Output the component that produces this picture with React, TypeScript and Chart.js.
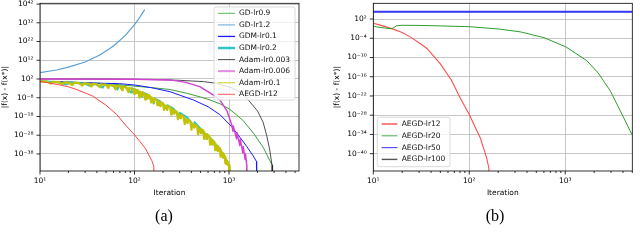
import React, { useEffect, useRef } from "react";
import { Chart, registerables } from "chart.js";
Chart.register(...registerables);

// ---------------- Panel (a) data ----------------
const gd09Iter = [10, 20, 30, 50, 70, 100, 150, 238, 355, 500, 630, 800, 1020, 1400, 1820, 2300, 2700, 2880, 2890];
const gd09Val = [6.3, 2.5, 1.26, 0.32, 0.08, 0.016, 2.5e-3, 2.5e-4, 2.5e-6, 2.5e-8, 6.3e-10, 6.3e-12, 6.3e-15, 1e-20, 1e-27, 3.2e-35, 3.2e-42, 1e-44, 1e-60];

const gd12Iter = [10, 15, 20, 30, 43, 60, 80, 100, 115, 128];
const gd12Val = [2.5e5, 6.3e6, 2e8, 1.26e11, 6.3e14, 4e19, 2e25, 1e31, 2e35, 1e39];

const gdm01Iter = [10, 20, 40, 70, 100, 150, 238, 420, 600, 800, 1070, 1300, 1540, 1800, 1950, 1960];
const gdm01Val = [6.3, 2, 0.63, 0.32, 0.063, 2.5e-3, 1.6e-5, 6.3e-10, 1.6e-13, 1e-17, 3.2e-24, 1e-29, 1e-34, 1e-39, 1e-42, 1e-60];

const gdm02Iter = [10, 15, 19, 21, 25, 30, 34, 38, 46, 48, 58, 66, 68, 80, 92, 94, 105, 120, 122, 140, 160, 162, 185, 220, 222, 260, 300, 302, 360, 430, 432, 500, 580, 582, 660, 750, 752, 850, 950, 952, 1005, 1012];
const gdm02Val = [6.3, 2.5, 0.13, 1.3, 0.79, 0.4, 0.016, 0.25, 2.5e-3, 0.1, 0.05, 2.5e-4, 0.02, 5e-3, 6.3e-6, 1e-3, 1.6e-4, 3.2e-8, 6.3e-6, 3.2e-7, 1e-11, 5e-9, 1.6e-10, 1e-14, 1e-12, 1e-14, 3.2e-19, 1e-16, 3.2e-19, 3.2e-24, 1e-21, 3.2e-25, 1e-30, 3.2e-28, 3.2e-31, 1e-36, 3.2e-34, 3.2e-38, 1e-43, 3.2e-42, 1e-45, 1e-60];

const adam003Iter = [10, 50, 100, 200, 300, 535, 740, 1100, 1400, 1600, 2000, 2290, 2500, 2700, 2850, 2870];
const adam003Val = [100, 89, 63, 40, 20, 4, 0.5, 1e-3, 1e-6, 6.3e-10, 1e-15, 1e-21, 1e-28, 1e-36, 1e-44, 1e-60];

const adam006Iter = [10, 100, 238, 350, 490, 680, 800, 950, 1070, 1100, 1110, 1200, 1215, 1300, 1315, 1400, 1415, 1480, 1495, 1540, 1545];
const adam006Val = [100, 79, 32, 1.6, 7.9e-3, 3.2e-7, 6.3e-10, 1e-15, 3.2e-23, 1e-26, 1e-23, 1e-30, 3.2e-27, 3.2e-34, 1e-30, 3.2e-38, 1e-34, 1e-41, 1e-38, 1e-44, 1e-60];

const adam01Iter = [
  10, 12, 13, 14, 16, 17, 18, 20, 22, 23, 26, 28, 29, 33, 35, 36, 40, 43, 44, 50, 53, 54, 60, 63, 64, 70, 74, 75, 82, 86, 87, 95,
  100, 101, 106, 107, 110, 113, 115, 119, 120, 125, 130, 132, 138, 139, 145, 150, 152, 160, 161, 170, 175, 177, 188, 189, 200, 205, 207, 222, 223, 238,
  245, 248, 263, 264, 280, 288, 290, 310, 311, 330, 340, 342, 365, 366, 390, 400, 402, 430, 431, 460, 470, 472, 505, 506, 535, 545, 548, 585, 586, 620,
  630, 633, 665, 666, 700, 715, 718, 760, 761, 800, 815, 818, 860, 861, 900, 915, 918, 950, 951, 980, 1000, 1010, 1015,
];
const adam01Val = [
  6.3, 4, 0.32, 3.2, 2, 0.16, 1.6, 1.3, 0.063, 1, 0.63, 0.032, 0.5, 0.32, 0.01, 0.25, 0.16, 4e-3, 0.13, 0.079, 1.6e-3, 0.063, 0.032, 3.2e-4, 0.025, 0.016, 1e-4, 7.9e-3, 3.2e-3, 1e-5, 1.6e-3, 5e-4,
  1e-6, 2.5e-4, 3.2e-6, 1.3e-4, 6.3e-5, 1e-8, 1.6e-5, 1e-7, 7.9e-6, 3.2e-6, 1e-9, 6.3e-7, 3.2e-9, 2.5e-7, 1e-7, 3.2e-11, 1.6e-8, 3.2e-11, 4e-9, 1e-9, 1e-12, 1.6e-10, 3.2e-13, 4e-11, 1e-11, 3.2e-15, 1.6e-12, 3.2e-15, 4e-13, 1e-13,
  1e-17, 1e-14, 3.2e-17, 1.6e-15, 3.2e-16, 3.2e-20, 3.2e-17, 1e-19, 6.3e-18, 1e-18, 1e-22, 1e-19, 3.2e-22, 1.6e-20, 3.2e-21, 1e-25, 3.2e-22, 1e-24, 6.3e-23, 1e-23, 3.2e-28, 1e-24, 1e-27, 1.6e-25, 3.2e-26, 1e-30, 3.2e-27, 1e-30, 2.5e-28, 3.2e-29,
  1e-33, 3.2e-30, 1e-33, 2.5e-31, 3.2e-32, 1e-36, 3.2e-33, 3.2e-37, 1e-34, 1e-35, 3.2e-40, 1e-36, 1e-40, 2.5e-38, 1e-39, 1e-43, 1e-40, 3.2e-44, 2.5e-42, 1e-43, 1e-45, 1e-44, 1e-60,
];

// AEGD-lr12 appears in both panels
const aegd12Iter = [10, 11.8, 15.6, 20, 24, 31, 36, 50, 65, 80, 100, 130, 152, 160, 161];
const aegd12Val = [5, 1.26, 0.1, 6.3e-3, 3.2e-4, 2e-6, 7.9e-8, 1e-12, 1e-17, 3.2e-23, 1.6e-28, 1e-35, 4e-42, 3.2e-45, 1e-60];

// ---------------- Panel (b) data ----------------
const aegd20Iter = [10, 11, 13, 15.6, 16.5, 17.5, 20, 30, 50, 100, 200, 340, 600, 1015, 1680, 2200, 2950, 3800, 4950];
const aegd20Val = [0.63, 0.32, 0.16, 0.089, 0.25, 0.79, 1.1, 1, 0.71, 0.4, 0.079, 0.01, 1.6e-4, 2e-7, 1e-11, 1.6e-15, 4e-21, 1e-27, 1e-34];

const aegd50Iter = [10, 5000];
const aegd50Val = [1.9e4, 1.9e4];

const aegd100Iter = [10, 5000];
const aegd100Val = [1.9e4, 1.9e4];

// ---------------- ticks ----------------
const xMajorTicks = [10, 100, 1000];
const xMinorTicks = [20, 30, 40, 50, 60, 70, 80, 90, 200, 300, 400, 500, 600, 700, 800, 900, 2000, 3000, 4000, 5000];
const yTickExpA = [-38, -28, -18, -8, 2, 12, 22, 32, 42];
const yTickExpB = [-40, -34, -28, -22, -16, -10, -4, 2];

const SUP: Record<string, string> = { "0": "⁰", "1": "¹", "2": "²", "3": "³", "4": "⁴", "5": "⁵", "6": "⁶", "7": "⁷", "8": "⁸", "9": "⁹", "-": "⁻" };
const pow10Label = (v: number) => {
  const e = Math.round(Math.log10(v));
  return "10" + String(e).split("").map((c) => SUP[c]).join("");
};

const FONT = '"DejaVu Sans", sans-serif';
const tickFont = { family: FONT, size: 7.5 };

const pts = (xs: number[], ys: number[]) => xs.map((x, i) => ({ x, y: ys[i] }));

type DS = { label: string; xs: number[]; ys: number[]; color: string; width: number; legendColor?: string; legendWidth?: number };

function overlayPlugin(p: {
  box: [number, number, number, number];
  row0: number;
  rowH: number;
  lx0: number;
  lx1: number;
  tx: number;
  caption: string;
  capX: number;
  capY: number;
  legendItems: DS[];
}) {
  return {
    id: "overlay",
    afterDraw(chart: any) {
      const { ctx, chartArea: a, scales } = chart;
      ctx.save();
      // frame
      ctx.strokeStyle = "#000";
      ctx.lineWidth = 0.8;
      ctx.strokeRect(a.left, a.top, a.right - a.left, a.bottom - a.top);
      // tick marks
      ctx.beginPath();
      const xs = scales.x;
      for (const v of xMajorTicks) {
        const px = xs.getPixelForValue(v);
        if (px < a.left - 0.5 || px > a.right + 0.5) continue;
        ctx.moveTo(px, a.bottom);
        ctx.lineTo(px, a.bottom + 3.5);
      }
      for (const v of xMinorTicks) {
        const px = xs.getPixelForValue(v);
        if (px < a.left - 0.5 || px > a.right + 0.5) continue;
        ctx.moveTo(px, a.bottom);
        ctx.lineTo(px, a.bottom + 2);
      }
      const ys = scales.y;
      for (const t of ys.ticks) {
        const py = ys.getPixelForValue(t.value);
        ctx.moveTo(a.left - 3.5, py);
        ctx.lineTo(a.left, py);
      }
      ctx.stroke();

      // legend
      const [bx, by, bw, bh] = p.box;
      const r = 2;
      ctx.beginPath();
      ctx.moveTo(bx + r, by);
      ctx.lineTo(bx + bw - r, by);
      ctx.quadraticCurveTo(bx + bw, by, bx + bw, by + r);
      ctx.lineTo(bx + bw, by + bh - r);
      ctx.quadraticCurveTo(bx + bw, by + bh, bx + bw - r, by + bh);
      ctx.lineTo(bx + r, by + bh);
      ctx.quadraticCurveTo(bx, by + bh, bx, by + bh - r);
      ctx.lineTo(bx, by + r);
      ctx.quadraticCurveTo(bx, by, bx + r, by);
      ctx.closePath();
      ctx.fillStyle = "rgba(255,255,255,0.8)";
      ctx.fill();
      ctx.strokeStyle = "#d0d0d0";
      ctx.lineWidth = 0.8;
      ctx.stroke();
      ctx.font = `7.5px ${FONT}`;
      ctx.textBaseline = "middle";
      ctx.textAlign = "left";
      p.legendItems.forEach((d, i) => {
        const y = p.row0 + i * p.rowH;
        ctx.beginPath();
        ctx.strokeStyle = d.legendColor || d.color;
        ctx.lineWidth = d.legendWidth || d.width;
        ctx.moveTo(p.lx0, y);
        ctx.lineTo(p.lx1, y);
        ctx.stroke();
        ctx.fillStyle = "#111";
        ctx.fillText(d.label, p.tx, y);
      });

      // caption
      ctx.font = '16px "Liberation Serif", "DejaVu Serif", serif';
      ctx.fillStyle = "#000";
      ctx.textAlign = "center";
      ctx.textBaseline = "middle";
      ctx.fillText(p.caption, p.capX, p.capY);
      ctx.restore();
    },
  };
}

function buildConfig(o: {
  series: DS[];
  xMax: number;
  yMin: number;
  yMax: number;
  yTickExp: number[];
  yWidth: number;
  yTitlePad: number;
  padRight: number;
  overlay: any;
}) {
  const n = o.series.length;
  return {
    type: "line",
    data: {
      datasets: o.series.map((s, i) => ({
        label: s.label,
        data: pts(s.xs, s.ys),
        borderColor: s.color,
        backgroundColor: s.color,
        borderWidth: s.width,
        pointRadius: 0,
        pointHoverRadius: 0,
        fill: false,
        tension: 0,
        borderJoinStyle: "round",
        clip: 0,
        order: n - i,
      })),
    },
    options: {
      animation: false,
      responsive: false,
      maintainAspectRatio: false,
      events: [],
      layout: { padding: { left: 0, right: o.padRight, top: 3.3, bottom: 36.6 } },
      plugins: {
        legend: { display: false },
        tooltip: { enabled: false },
        title: { display: false },
      },
      scales: {
        x: {
          type: "logarithmic",
          min: 10,
          max: o.xMax,
          bounds: "data",
          afterBuildTicks: (s: any) => {
            s.ticks = xMajorTicks.map((v) => ({ value: v }));
          },
          afterFit: (s: any) => {
            s.height = 36.4;
            s.paddingLeft = 0;
            s.paddingRight = 0;
          },
          ticks: {
            callback: (v: any) => pow10Label(Number(v)),
            font: tickFont,
            color: "#000",
            padding: 6,
            maxRotation: 0,
            autoSkip: false,
          },
          grid: { color: "#b8b8b8", lineWidth: 0.8, drawTicks: false },
          border: { display: false },
          title: {
            display: true,
            text: "Iteration",
            font: tickFont,
            color: "#000",
            padding: { top: 0, bottom: 9.6 },
          },
        },
        y: {
          type: "logarithmic",
          min: o.yMin,
          max: o.yMax,
          bounds: "data",
          afterBuildTicks: (s: any) => {
            s.ticks = o.yTickExp.map((e) => ({ value: Math.pow(10, e) }));
          },
          afterFit: (s: any) => {
            s.width = o.yWidth;
            s.paddingTop = 0;
            s.paddingBottom = 0;
          },
          ticks: {
            callback: (v: any) => pow10Label(Number(v)),
            font: tickFont,
            color: "#000",
            padding: 6.5,
            autoSkip: false,
          },
          grid: { color: "#b8b8b8", lineWidth: 0.8, drawTicks: false },
          border: { display: false },
          title: {
            display: true,
            text: "|f(x) - f(x*)|",
            font: tickFont,
            color: "#000",
            padding: { top: o.yTitlePad, bottom: 0 },
          },
        },
      },
    },
    plugins: [o.overlay],
  };
}

const seriesA: DS[] = [
  { label: "GD-lr0.9", xs: gd09Iter, ys: gd09Val, color: "#3a9e3a", width: 1, legendColor: "#5cb85c" },
  { label: "GD-lr1.2", xs: gd12Iter, ys: gd12Val, color: "#5b9fd4", width: 1.2, legendColor: "#9cc6e8", legendWidth: 1.6 },
  { label: "GDM-lr0.1", xs: gdm01Iter, ys: gdm01Val, color: "#1a1aff", width: 1, legendWidth: 1.3 },
  { label: "GDM-lr0.2", xs: gdm02Iter, ys: gdm02Val, color: "#33c4c8", width: 2, legendWidth: 2.5 },
  { label: "Adam-lr0.003", xs: adam003Iter, ys: adam003Val, color: "#222222", width: 0.8 },
  { label: "Adam-lr0.006", xs: adam006Iter, ys: adam006Val, color: "#d43fd4", width: 1.4, legendColor: "#e58ae5", legendWidth: 2 },
  { label: "Adam-lr0.1", xs: adam01Iter, ys: adam01Val, color: "#c2c200", width: 2.2, legendColor: "#d8d850", legendWidth: 1.3 },
  { label: "AEGD-lr12", xs: aegd12Iter, ys: aegd12Val, color: "#ff4545", width: 1, legendColor: "#ff5a5a" },
];

const seriesB: DS[] = [
  { label: "AEGD-lr12", xs: aegd12Iter, ys: aegd12Val, color: "#ff4d4d", width: 1.1, legendColor: "#ff8080", legendWidth: 2 },
  { label: "AEGD-lr20", xs: aegd20Iter, ys: aegd20Val, color: "#2e9e2e", width: 1, legendColor: "#4caf4c" },
  { label: "AEGD-lr50", xs: aegd50Iter, ys: aegd50Val, color: "#3a3aff", width: 2, legendColor: "#5050ff", legendWidth: 1.2 },
  { label: "AEGD-lr100", xs: aegd100Iter, ys: aegd100Val, color: "#333333", width: 1, legendColor: "#555555", legendWidth: 1.4 },
];

// black lr100 sits underneath the blue lr50 line
const seriesBDraw: DS[] = [seriesB[0], seriesB[1], seriesB[3], seriesB[2]];

function Panel({ build }: { build: () => any }) {
  const ref = useRef<HTMLCanvasElement>(null);
  useEffect(() => {
    const chart = new Chart(ref.current as HTMLCanvasElement, build());
    return () => chart.destroy();
  }, []);
  return (
    <div style={{ width: 320, height: 244 }}>
      <canvas ref={ref} width={320} height={244} style={{ display: "block", width: 320, height: 244 }} />
    </div>
  );
}

export default function App() {
  useEffect(() => {
    document.body.style.margin = "0";
    document.body.style.background = "#fff";
  }, []);
  const buildA = () =>
    buildConfig({
      series: seriesA,
      xMax: 5500,
      yMin: Math.pow(10, -47.1),
      yMax: Math.pow(10, 42.4),
      yTickExp: yTickExpA,
      yWidth: 40,
      yTitlePad: 0.8,
      padRight: 21,
      overlay: overlayPlugin({
        box: [214, 7, 81, 93],
        row0: 13.3,
        rowH: 11.57,
        lx0: 218,
        lx1: 235,
        tx: 239,
        caption: "(a)",
        capX: 164,
        capY: 217,
        legendItems: seriesA,
      }),
    });
  const buildB = () =>
    buildConfig({
      series: seriesBDraw,
      xMax: 5000,
      yMin: Math.pow(10, -45.4),
      yMax: Math.pow(10, 6.9),
      yTickExp: yTickExpB,
      yWidth: 53.3,
      yTitlePad: 12.2,
      padRight: 7.7,
      overlay: overlayPlugin({
        box: [57.3, 117.3, 72.7, 49.4],
        row0: 124,
        rowH: 11.8,
        lx0: 61.7,
        lx1: 77.3,
        tx: 81.7,
        caption: "(b)",
        capX: 175,
        capY: 217,
        legendItems: seriesB,
      }),
    });
  return (
    <div style={{ display: "flex", width: 640, height: 244, background: "#fff" }}>
      <Panel build={buildA} />
      <Panel build={buildB} />
    </div>
  );
}
